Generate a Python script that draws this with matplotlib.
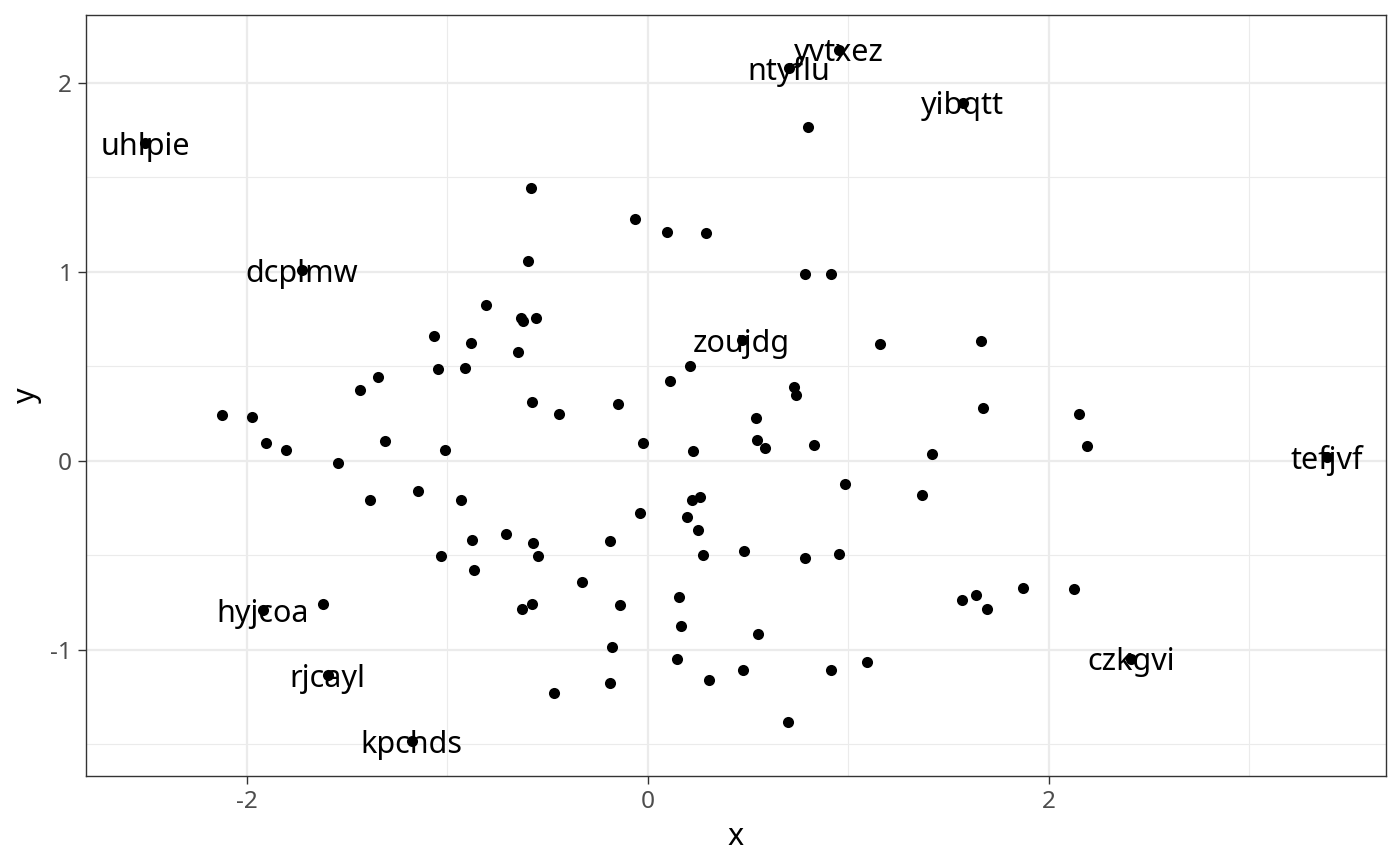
import matplotlib.pyplot as plt
import numpy as np

# --- point data ---
xs = [-2.506, -1.724, -0.582, -0.062, 0.096, 0.289, -0.594, 0.801, 0.706, 0.953,
      0.786, 0.916, 1.571, -0.808, -0.632, -0.622, -0.557, -1.066, -0.878, -0.645,
      -1.044, -0.908, -1.342, -1.433, -2.123, -1.972, -1.902, -1.805, -1.307, -1.011,
      -1.546, -1.384, -1.146, -0.931, -0.705, 0.469, 1.160, 0.214, 0.111, 0.728,
      0.740, -0.574, -0.441, -0.145, 0.542, 0.547, 0.584, 0.829, -0.022, 0.229,
      1.421, 0.983, 1.370, 0.262, 0.221, -0.037, 0.195, 0.254, 1.664, 1.674,
      2.150, 2.191, 3.388, -1.031, -0.875, -0.866, -1.619, -1.920, -0.627, -0.577,
      -1.595, -1.176, -0.570, -0.547, -0.188, -0.328, -0.138, -0.177, -0.185, -0.466,
      0.276, 0.480, 0.786, 0.953, 0.156, 0.166, 0.553, 0.145, 0.304, 0.477,
      0.913, 1.094, 0.698, 1.568, 1.636, 1.691, 1.872, 2.125, 2.410]
ys = [1.680, 1.008, 1.444, 1.279, 1.212, 1.207, 1.059, 1.764, 2.081, 2.176,
      0.990, 0.990, 1.896, 0.827, 0.755, 0.740, 0.755, 0.660, 0.624, 0.577,
      0.484, 0.494, 0.443, 0.375, 0.243, 0.234, 0.097, 0.056, 0.107, 0.056,
      -0.009, -0.207, -0.157, -0.207, -0.385, 0.639, 0.619, 0.500, 0.421, 0.389,
      0.348, 0.313, 0.250, 0.302, 0.225, 0.109, 0.067, 0.084, 0.095, 0.053,
      0.039, -0.120, -0.183, -0.190, -0.206, -0.273, -0.297, -0.364, 0.632, 0.281,
      0.248, 0.079, 0.023, -0.503, -0.418, -0.575, -0.755, -0.790, -0.786, -0.755,
      -1.133, -1.484, -0.434, -0.505, -0.426, -0.640, -0.762, -0.987, -1.175, -1.230,
      -0.498, -0.475, -0.516, -0.493, -0.718, -0.872, -0.916, -1.047, -1.157, -1.107,
      -1.108, -1.062, -1.379, -0.737, -0.712, -0.785, -0.670, -0.675, -1.047]

# labelled points (extremes)
label_names = ['uhlpie', 'dcplmw', 'ntyflu', 'yvtxez', 'yibqtt', 'zoujdg',
               'tefjvf', 'hyjcoa', 'rjcayl', 'kpchds', 'czkgvi']
label_idx = [0, 1, 8, 9, 12, 35, 62, 67, 70, 71, 98]

plt.rcParams['font.family'] = ['Noto Sans', 'DejaVu Sans']
plt.rcParams['axes.unicode_minus'] = False

fig = plt.figure(figsize=(7, 4.33), dpi=200)
ax = fig.add_axes([0.0614, 0.1039, 0.9286, 0.8788])

xs = np.array(xs)
ys = np.array(ys)

# ggplot-like 5% expansion
xr = xs.max() - xs.min()
yr = ys.max() - ys.min()
ax.set_xlim(xs.min() - 0.05 * xr, xs.max() + 0.05 * xr)
ax.set_ylim(ys.min() - 0.05 * yr, ys.max() + 0.05 * yr)

# theme_bw grid
ax.set_xticks([-2, 0, 2])
ax.set_yticks([-1, 0, 1, 2])
ax.set_xticks([-1, 1, 3], minor=True)
ax.set_yticks([-1.5, -0.5, 0.5, 1.5], minor=True)
ax.grid(which='major', color='#EBEBEB', linewidth=0.8)
ax.grid(which='minor', color='#EBEBEB', linewidth=0.4)
ax.set_axisbelow(True)
ax.tick_params(which='minor', length=0)
ax.tick_params(which='major', length=2.75, width=0.5, color='#333333',
               labelsize=8.8, labelcolor='#4D4D4D', pad=2.2)
for s in ax.spines.values():
    s.set_color('#333333')
    s.set_linewidth(0.5)

ax.plot(xs, ys, 'o', color='black', markersize=4, markeredgewidth=0)

for name, i in zip(label_names, label_idx):
    ax.text(xs[i], ys[i], name, ha='center', va='center_baseline',
            fontsize=11, color='black')

ax.set_xlabel('x', fontsize=11, labelpad=3)
ax.set_ylabel('y', fontsize=11, labelpad=3)

fig.savefig('out.png', dpi=200)
